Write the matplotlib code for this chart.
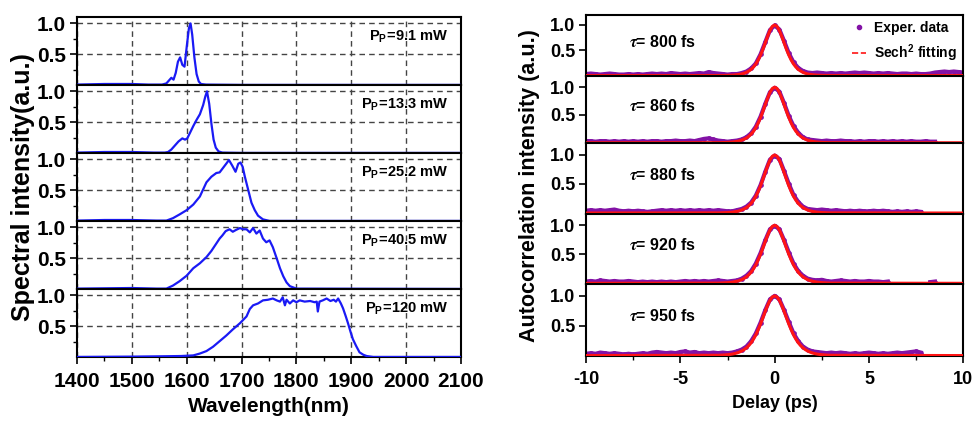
import numpy as np
import matplotlib.pyplot as plt
from matplotlib.lines import Line2D
from matplotlib.ticker import MultipleLocator, FixedLocator

plt.rcParams['font.family'] = ['Liberation Sans', 'DejaVu Sans']
plt.rcParams['font.weight'] = 'bold'
plt.rcParams['axes.labelweight'] = 'bold'
plt.rcParams['axes.unicode_minus'] = False
plt.rcParams['mathtext.fontset'] = 'stix'

# ---------------- spectra (left) ----------------
pump_labels = ['9.1 mW', '13.3 mW', '25.2 mW', '40.5 mW', '120 mW']

wl_1 = [1400, 1450, 1500, 1530, 1555, 1563, 1568, 1572, 1576, 1580, 1584, 1588, 1592, 1596,
        1600, 1604, 1607, 1610, 1614, 1618, 1622, 1626, 1635, 1700, 2100]
sp_1 = [0.01, 0.02, 0.02, 0.01, 0.01, 0.03, 0.08, 0.12, 0.09, 0.20, 0.38, 0.45, 0.33, 0.30,
        0.62, 0.92, 1.00, 0.82, 0.45, 0.18, 0.06, 0.02, 0.01, 0.005, 0.005]

wl_2 = [1400, 1450, 1500, 1540, 1560, 1566, 1572, 1578, 1585, 1592, 1597, 1601, 1606, 1612,
        1618, 1624, 1630, 1634, 1637, 1641, 1645, 1649, 1653, 1658, 1665, 1700, 2100]
sp_2 = [0.01, 0.02, 0.02, 0.01, 0.01, 0.02, 0.06, 0.12, 0.19, 0.24, 0.22, 0.24, 0.33, 0.44,
        0.54, 0.63, 0.78, 0.92, 1.00, 0.80, 0.48, 0.22, 0.09, 0.03, 0.01, 0.005, 0.005]

wl_3 = [1400, 1450, 1500, 1545, 1563, 1575, 1587, 1600, 1612, 1624, 1636, 1645, 1654, 1660,
        1666, 1672, 1677, 1683, 1689, 1694, 1698, 1702, 1706, 1712, 1718, 1724, 1730, 1739,
        1751, 1800, 2100]
sp_3 = [0.01, 0.02, 0.02, 0.01, 0.01, 0.05, 0.11, 0.18, 0.27, 0.40, 0.63, 0.72, 0.78, 0.79,
        0.86, 0.93, 0.99, 0.90, 0.80, 0.93, 0.95, 0.88, 0.72, 0.51, 0.30, 0.18, 0.09, 0.03,
        0.005, 0.005, 0.005]

wl_4 = [1400, 1450, 1500, 1545, 1563, 1575, 1587, 1600, 1612, 1624, 1636, 1645, 1654, 1660,
        1665, 1671, 1678, 1684, 1690, 1697, 1703, 1709, 1715, 1721, 1727, 1733, 1739, 1745,
        1751, 1757, 1764, 1770, 1776, 1782, 1788, 1800, 2100]
sp_4 = [0.01, 0.015, 0.02, 0.01, 0.01, 0.06, 0.13, 0.22, 0.34, 0.42, 0.52, 0.62, 0.74, 0.82,
        0.87, 0.94, 0.97, 0.93, 0.96, 0.99, 0.97, 0.97, 0.92, 0.99, 0.90, 0.95, 0.82, 0.76,
        0.79, 0.68, 0.50, 0.34, 0.21, 0.11, 0.05, 0.01, 0.005]

wl_5 = [1400, 1500, 1550, 1590, 1612, 1624, 1636, 1648, 1660, 1672, 1684, 1697, 1709, 1715,
        1721, 1730, 1739, 1748, 1757, 1764, 1770, 1775, 1779, 1782, 1788, 1794, 1800, 1806,
        1815, 1825, 1833, 1837, 1839, 1842, 1848, 1855, 1862, 1868, 1872, 1876, 1881, 1885,
        1890, 1894, 1899, 1903, 1909, 1915, 1922, 1928, 1940, 2100]
sp_5 = [0.005, 0.01, 0.015, 0.02, 0.03, 0.06, 0.10, 0.17, 0.26, 0.35, 0.45, 0.55, 0.66, 0.78,
        0.84, 0.87, 0.92, 0.93, 0.95, 0.92, 0.90, 0.97, 0.84, 0.93, 0.87, 0.92, 0.89, 0.92,
        0.90, 0.91, 0.89, 0.90, 0.74, 0.90, 0.92, 0.95, 0.91, 0.93, 0.90, 0.95, 0.87, 0.79,
        0.66, 0.55, 0.40, 0.29, 0.18, 0.08, 0.04, 0.02, 0.005, 0.005]

spectra = [(wl_1, sp_1), (wl_2, sp_2), (wl_3, sp_3), (wl_4, sp_4), (wl_5, sp_5)]

# ---------------- autocorrelation (right) ----------------
tau_labels = ['800 fs', '860 fs', '880 fs', '920 fs', '950 fs']

delay = np.arange(-10, 10.001, 0.25)          # measured trace, 81 points
delay_fit = np.concatenate(([-10], np.arange(-3, 3.001, 0.125), [10]))  # 51 points

nan = np.nan
ac_1 = [0.03, 0.04, 0.03, 0.02, 0.03, 0.04, 0.03, 0.02, 0.02, 0.03, 0.02, 0.03, 0.02, 0.03, 0.04,
        0.03, 0.04, 0.03, 0.05, 0.04, 0.03, 0.04, 0.03, 0.04, 0.05, 0.04, 0.07, 0.05, 0.04, 0.03,
        0.02, 0.03, 0.03, 0.05, 0.08, 0.14, 0.24, 0.42, 0.66, 0.90,
        0.99,
        0.91, 0.68, 0.44, 0.26, 0.15, 0.09, 0.06, 0.05, 0.06, 0.05, 0.04, 0.05, 0.04, 0.05, 0.04,
        0.05, 0.06, 0.05, 0.06, 0.05, 0.04, 0.05, 0.04, 0.05, 0.04, 0.03, 0.04, 0.04, 0.03, 0.04,
        0.03, 0.03, 0.04, 0.06, 0.07, 0.08, 0.07, 0.08, 0.07, 0.06]
ac_2 = [0.03, 0.03, 0.02, 0.03, 0.03, 0.02, 0.03, 0.02, 0.03, 0.02, 0.03, 0.02, 0.03, 0.02, 0.03,
        0.03, 0.02, 0.03, 0.03, 0.04, 0.03, 0.03, 0.04, 0.03, 0.05, 0.07, 0.08, 0.06, 0.04, 0.03,
        0.02, 0.03, 0.04, 0.06, 0.10, 0.17, 0.29, 0.47, 0.70, 0.91,
        0.99,
        0.92, 0.71, 0.48, 0.30, 0.18, 0.10, 0.06, 0.05, 0.04, 0.03, 0.04, 0.03, 0.03, 0.04, 0.03,
        0.03, 0.02, 0.03, 0.02, 0.03, 0.03, 0.02, 0.03, 0.02, 0.03, 0.02, 0.03, 0.02, 0.03, 0.02,
        0.02, 0.03, 0.02, 0.02, nan, nan, nan, nan, nan, nan]
ac_3 = [0.04, 0.05, 0.04, 0.05, 0.04, 0.05, 0.06, 0.04, 0.03, 0.04, 0.03, 0.04, 0.03, 0.02, 0.03,
        0.04, 0.05, 0.04, 0.05, 0.04, 0.05, 0.04, 0.05, 0.04, 0.05, 0.04, 0.05, 0.04, 0.05, 0.04,
        0.03, 0.03, 0.05, 0.07, 0.11, 0.18, 0.30, 0.48, 0.71, 0.92,
        0.99,
        0.93, 0.72, 0.50, 0.31, 0.19, 0.11, 0.07, 0.06, 0.05, 0.06, 0.05, 0.04, 0.05, 0.04, 0.03,
        0.04, 0.03, 0.04, 0.03, 0.03, 0.04, 0.03, 0.04, 0.03, 0.02, 0.03, 0.02, 0.03, 0.02, 0.03,
        0.02, nan, nan, nan, nan, nan, nan, nan, nan, nan]
ac_4 = [0.03, 0.04, 0.03, 0.05, 0.04, 0.03, 0.04, 0.03, 0.03, 0.04, 0.03, 0.02, 0.03, 0.02, 0.03,
        0.02, 0.03, 0.02, 0.03, 0.02, 0.03, 0.04, 0.03, 0.04, 0.03, 0.04, 0.03, 0.04, 0.05, 0.04,
        0.03, 0.04, 0.05, 0.08, 0.13, 0.21, 0.34, 0.52, 0.74, 0.93,
        0.99,
        0.93, 0.74, 0.53, 0.34, 0.21, 0.13, 0.08, 0.06, 0.05, 0.06, 0.04, 0.03, 0.04, 0.05, 0.04,
        0.03, 0.04, 0.03, 0.03, 0.04, 0.03, 0.03, 0.02, 0.03, nan, nan, nan, nan, nan, nan,
        nan, nan, 0.02, 0.03, nan, nan, nan, nan, nan, nan]
ac_5 = [0.03, 0.04, 0.03, 0.05, 0.04, 0.03, 0.04, 0.03, 0.02, 0.03, 0.02, 0.03, 0.04, 0.03, 0.05,
        0.06, 0.05, 0.04, 0.05, 0.04, 0.06, 0.07, 0.05, 0.06, 0.04, 0.05, 0.04, 0.05, 0.04, 0.05,
        0.04, 0.05, 0.07, 0.10, 0.15, 0.24, 0.37, 0.55, 0.76, 0.94,
        1.00,
        0.94, 0.76, 0.56, 0.37, 0.24, 0.15, 0.10, 0.07, 0.06, 0.05, 0.04, 0.05, 0.04, 0.05, 0.04,
        0.03, 0.04, 0.03, 0.04, 0.05, 0.04, 0.03, 0.04, 0.03, 0.04, 0.05, 0.04, 0.05, 0.06, 0.07,
        0.05, nan, nan, nan, nan, nan, nan, nan, nan, nan]

# sech^2 fit curves read on the fit grid (-10, -3 ... 3 step 0.125, 10)
fit_1 = [0.0,
         0.001, 0.0015, 0.002, 0.003, 0.004, 0.006, 0.008, 0.012, 0.017, 0.023, 0.032, 0.045,
         0.064, 0.089, 0.122, 0.168, 0.229, 0.306, 0.404, 0.518, 0.646, 0.776, 0.891, 0.971,
         1.000,
         0.971, 0.891, 0.776, 0.646, 0.518, 0.404, 0.306, 0.229, 0.168, 0.122, 0.089, 0.064,
         0.045, 0.032, 0.023, 0.017, 0.012, 0.008, 0.006, 0.004, 0.003, 0.002, 0.0015, 0.001,
         0.0]
fit_2 = [0.0,
         0.002, 0.003, 0.004, 0.005, 0.007, 0.0098, 0.013, 0.018, 0.025, 0.034, 0.047, 0.064,
         0.086, 0.116, 0.156, 0.207, 0.273, 0.355, 0.454, 0.566, 0.686, 0.804, 0.906, 0.976,
         1.000,
         0.976, 0.906, 0.804, 0.686, 0.566, 0.454, 0.355, 0.273, 0.207, 0.156, 0.116, 0.086,
         0.064, 0.047, 0.034, 0.025, 0.018, 0.013, 0.0098, 0.007, 0.005, 0.004, 0.003, 0.002,
         0.0]
fit_3 = [0.0,
         0.0024, 0.003, 0.0045, 0.006, 0.008, 0.011, 0.015, 0.021, 0.028, 0.038, 0.052, 0.070,
         0.094, 0.125, 0.166, 0.220, 0.288, 0.371, 0.469, 0.581, 0.698, 0.813, 0.910, 0.977,
         1.000,
         0.977, 0.910, 0.813, 0.698, 0.581, 0.469, 0.371, 0.288, 0.220, 0.166, 0.125, 0.094,
         0.070, 0.052, 0.038, 0.028, 0.021, 0.015, 0.011, 0.008, 0.006, 0.0045, 0.003, 0.0024,
         0.0]
fit_4 = [0.0,
         0.0035, 0.0047, 0.0063, 0.0085, 0.011, 0.015, 0.020, 0.027, 0.036, 0.047, 0.063, 0.084,
         0.111, 0.146, 0.191, 0.247, 0.318, 0.402, 0.500, 0.608, 0.721, 0.828, 0.918, 0.979,
         1.000,
         0.979, 0.918, 0.828, 0.721, 0.608, 0.500, 0.402, 0.318, 0.247, 0.191, 0.146, 0.111,
         0.084, 0.063, 0.047, 0.036, 0.027, 0.020, 0.015, 0.011, 0.0085, 0.0063, 0.0047, 0.0035,
         0.0]
fit_5 = [0.0,
         0.0048, 0.0063, 0.008, 0.011, 0.014, 0.019, 0.025, 0.033, 0.044, 0.058, 0.076, 0.099,
         0.129, 0.167, 0.215, 0.274, 0.346, 0.431, 0.527, 0.633, 0.740, 0.842, 0.925, 0.981,
         1.000,
         0.981, 0.925, 0.842, 0.740, 0.633, 0.527, 0.431, 0.346, 0.274, 0.215, 0.167, 0.129,
         0.099, 0.076, 0.058, 0.044, 0.033, 0.025, 0.019, 0.014, 0.011, 0.008, 0.0063, 0.0048,
         0.0]

traces = [(ac_1, fit_1), (ac_2, fit_2), (ac_3, fit_3), (ac_4, fit_4), (ac_5, fit_5)]

BLUE = '#1a1af5'
PURPLE = '#8312a6'
RED = '#ff1414'

fig = plt.figure(figsize=(9.72, 4.24), dpi=100)

# left stack
gs_l = fig.add_gridspec(5, 1, left=0.0792, right=0.4743, top=0.960, bottom=0.158, hspace=0)
for i, (wl, sp) in enumerate(spectra):
    ax = fig.add_subplot(gs_l[i])
    ax.plot(wl, sp, color=BLUE, lw=1.6, zorder=3)
    ax.set_xlim(1400, 2100)
    ax.set_ylim(0.004, 1.104)
    ax.xaxis.set_major_locator(MultipleLocator(100))
    ax.xaxis.set_minor_locator(MultipleLocator(50))
    ax.yaxis.set_major_locator(FixedLocator([0.5, 1.0]))
    ax.yaxis.set_minor_locator(FixedLocator([0.25, 0.75]))
    ax.grid(True, which='major', color='#444444', ls=(0, (4, 3)), lw=1.0)
    ax.tick_params(which='major', direction='out', length=5, width=1.2, labelsize=15, pad=3)
    ax.tick_params(which='minor', direction='out', length=3, width=1.0)
    ax.tick_params(axis='x', pad=6)
    for s in ax.spines.values():
        s.set_linewidth(1.5)
    if i < 4:
        ax.tick_params(axis='x', which='both', labelbottom=False, length=0)
    else:
        ax.set_xlabel('Wavelength(nm)', fontsize=15, labelpad=4)
    ax.text(0.966, 0.70, r'P$_\mathregular{P}$=' + pump_labels[i], transform=ax.transAxes,
            ha='right', va='center', fontsize=10.5, fontweight='bold')

fig.text(0.024, 0.559, 'Spectral intensity(a.u.)', rotation=90, ha='center', va='center',
         fontsize=18, fontweight='bold')

# right stack
gs_r = fig.add_gridspec(5, 1, left=0.603, right=0.991, top=0.965, bottom=0.160, hspace=0,
                        height_ratios=[61, 67, 70, 70, 72])
for i, (ac, fit) in enumerate(traces):
    ax = fig.add_subplot(gs_r[i])
    ax.plot(delay, ac, color=PURPLE, lw=3.0, marker='o', ms=2.4, zorder=2)
    ax.plot(delay_fit, fit, color=RED, lw=2.2, zorder=3)
    ax.set_xlim(-10, 10)
    ax.set_ylim(-0.01, 1.2)
    ax.xaxis.set_major_locator(MultipleLocator(5))
    ax.xaxis.set_minor_locator(MultipleLocator(2.5))
    ax.yaxis.set_major_locator(FixedLocator([0.5, 1.0]))
    ax.tick_params(which='major', direction='out', length=5, width=1.2, labelsize=13, pad=3)
    ax.tick_params(which='minor', direction='out', length=3, width=1.0)
    ax.tick_params(axis='x', pad=6)
    for s in ax.spines.values():
        s.set_linewidth(1.5)
    if i < 4:
        ax.tick_params(axis='x', which='both', labelbottom=False)
    else:
        ax.set_xlabel('Delay (ps)', fontsize=13, labelpad=5)
    ax.text(-7.7, 0.55, r'$\tau$= ' + tau_labels[i], transform=ax.get_xaxis_transform(),
            ha='left', va='center', fontsize=11.5, fontweight='bold')
    if i == 0:
        handles = [Line2D([], [], color=PURPLE, marker='o', ms=3, ls='none'),
                   Line2D([], [], color=RED, ls='--', lw=1.2)]
        ax.legend(handles, ['Exper. data', r'Sech$^\mathregular{2}$ fitting'], loc='upper right',
                  frameon=False, handlelength=1.0, handletextpad=0.6,
                  borderaxespad=0.05, labelspacing=0.55, prop={'weight': 'bold', 'size': 10})

fig.text(0.545, 0.5625, 'Autocorrelation intensity (a.u.)', rotation=90, ha='center',
         va='center', fontsize=15.5, fontweight='bold')

fig.savefig('out.png', dpi=100)
